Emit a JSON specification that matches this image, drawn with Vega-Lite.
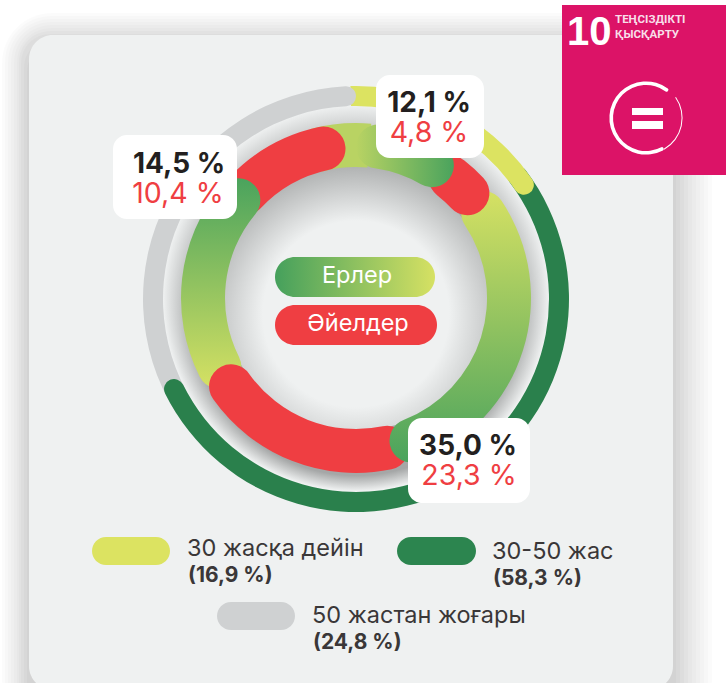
{"$schema":"https://vega.github.io/schema/vega-lite/v6.json","width":726,"height":683,"autosize":{"type":"none"},"padding":0,"background":"#ffffff","config":{"axis":{"disable":true},"view":{"stroke":null}},
"datasets":{"decor":[{"item":"decor"}],
"groups":[{"key":"u30","age":"30 жасқа дейін","share":"(16,9 %)","men":"12,1 %","women":"4,8 %"},{"key":"m30","age":"30-50 жас","share":"(58,3 %)","men":"35,0 %","women":"23,3 %"},{"key":"o50","age":"50 жастан жоғары","share":"(24,8 %)","men":"14,5 %","women":"10,4 %"}],
"sex":[{"key":"m","name":"Ерлер"},{"key":"f","name":"Әйелдер"}],
"sdg":[{"key":"n","t":"10"},{"key":"a","t":"ТЕҢСІЗДІКТІ"},{"key":"b","t":"ҚЫСҚАРТУ"}],
"rings":[{"id":"ys","start":-1.5,"end":10},{"id":"gray","start":235,"end":360},{"id":"green","start":50,"end":246.5},{"id":"yr","start":3,"end":58.6},
{"id":"m1a","start":345,"end":365},{"id":"w3","start":305,"end":356},{"id":"m3","start":235,"end":318},{"id":"w2","start":160,"end":243},{"id":"m2","start":48,"end":167},{"id":"w1","start":30,"end":55},{"id":"m1b","start":0,"end":38},{"id":"full","start":0,"end":360},{"id":"goal1","start":55,"end":150},{"id":"goal2","start":150,"end":399}]},
"layer":[
{"data":{"name":"decor"},"mark":{"type":"rect","fill":"#000000","opacity":0.014,"cornerRadius":50},"encoding":{"x":{"datum":2,"scale":{"domain":[0,726],"nice":false,"zero":false}},"x2":{"datum":712},"y":{"datum":13,"scale":{"domain":[683,0],"nice":false,"zero":false}},"y2":{"datum":730}}},
{"data":{"name":"decor"},"mark":{"type":"rect","fill":"#000000","opacity":0.014,"cornerRadius":46},"encoding":{"x":{"datum":5},"x2":{"datum":708},"y":{"datum":16},"y2":{"datum":730}}},
{"data":{"name":"decor"},"mark":{"type":"rect","fill":"#000000","opacity":0.014,"cornerRadius":43},"encoding":{"x":{"datum":8},"x2":{"datum":704},"y":{"datum":19},"y2":{"datum":730}}},
{"data":{"name":"decor"},"mark":{"type":"rect","fill":"#000000","opacity":0.014,"cornerRadius":40},"encoding":{"x":{"datum":11},"x2":{"datum":700},"y":{"datum":22},"y2":{"datum":730}}},
{"data":{"name":"decor"},"mark":{"type":"rect","fill":"#000000","opacity":0.014,"cornerRadius":37},"encoding":{"x":{"datum":14},"x2":{"datum":696},"y":{"datum":25},"y2":{"datum":730}}},
{"data":{"name":"decor"},"mark":{"type":"rect","fill":"#000000","opacity":0.016,"cornerRadius":34},"encoding":{"x":{"datum":17},"x2":{"datum":692},"y":{"datum":28},"y2":{"datum":730}}},
{"data":{"name":"decor"},"mark":{"type":"rect","fill":"#000000","opacity":0.018,"cornerRadius":31},"encoding":{"x":{"datum":19},"x2":{"datum":688},"y":{"datum":31},"y2":{"datum":730}}},
{"data":{"name":"decor"},"mark":{"type":"rect","fill":"#000000","opacity":0.02,"cornerRadius":29},"encoding":{"x":{"datum":21},"x2":{"datum":684},"y":{"datum":34},"y2":{"datum":730}}},
{"data":{"name":"decor"},"mark":{"type":"rect","fill":"#000000","opacity":0.02,"cornerRadius":27},"encoding":{"x":{"datum":24},"x2":{"datum":680},"y":{"datum":40},"y2":{"datum":730}}},
{"data":{"name":"decor"},"mark":{"type":"rect","fill":"#000000","opacity":0.02,"cornerRadius":26},"encoding":{"x":{"datum":27},"x2":{"datum":676},"y":{"datum":45},"y2":{"datum":730}}},
{"data":{"name":"decor"},"mark":{"type":"rect","fill":"#eff1f1","cornerRadius":24},"encoding":{"x":{"datum":29},"x2":{"datum":673},"y":{"datum":35},"y2":{"datum":690}}},

{"data":{"name":"rings"},"transform":[{"filter":"datum.id=='full'"}],"mark":{"type":"arc","innerRadius":0,"outerRadius":193,"fill":{"gradient":"radial","x1":0.5,"y1":0.54,"r1":0.42,"x2":0.5,"y2":0.5,"r2":0.5,"stops":[{"offset":0,"color":"#a5a7a7"},{"offset":1,"color":"#eff1f1"}]}},"encoding":{"x":{"datum":356},"y":{"datum":298},"theta":{"field":"start","type":"quantitative","stack":null,"scale":{"domain":[0,360],"range":[0,6.283185]}},"theta2":{"field":"end"}}},
{"data":{"name":"rings"},"transform":[{"filter":"datum.id=='full'"}],"mark":{"type":"arc","innerRadius":0,"outerRadius":133,"fill":{"gradient":"radial","x1":0.5,"y1":0.56,"r1":0.35,"x2":0.5,"y2":0.6,"r2":0.62,"stops":[{"offset":0,"color":"#eff1f1"},{"offset":1,"color":"#a9abab"}]}},"encoding":{"x":{"datum":356},"y":{"datum":298},"theta":{"field":"start","type":"quantitative","stack":null},"theta2":{"field":"end"}}},

{"data":{"name":"rings"},"transform":[{"filter":"datum.id=='ys'"}],"mark":{"type":"arc","innerRadius":193,"outerRadius":213,"fill":"#dce361"},"encoding":{"x":{"datum":356},"y":{"datum":299},"theta":{"field":"start","type":"quantitative","stack":null},"theta2":{"field":"end"}}},
{"data":{"name":"rings"},"transform":[{"filter":"datum.id=='gray'"}],"mark":{"type":"arc","innerRadius":193,"outerRadius":213,"cornerRadius":10,"fill":"#cfd1d2"},"encoding":{"x":{"datum":356},"y":{"datum":299},"theta":{"field":"start","type":"quantitative","stack":null},"theta2":{"field":"end"}}},
{"data":{"name":"rings"},"transform":[{"filter":"datum.id=='green'"}],"mark":{"type":"arc","innerRadius":193,"outerRadius":213,"cornerRadius":10,"fill":"#2a804c"},"encoding":{"x":{"datum":356},"y":{"datum":299},"theta":{"field":"start","type":"quantitative","stack":null},"theta2":{"field":"end"}}},
{"data":{"name":"rings"},"transform":[{"filter":"datum.id=='yr'"}],"mark":{"type":"arc","innerRadius":193,"outerRadius":213,"cornerRadius":10,"fill":"#dce361"},"encoding":{"x":{"datum":356},"y":{"datum":299},"theta":{"field":"start","type":"quantitative","stack":null},"theta2":{"field":"end"}}},

{"data":{"name":"rings"},"transform":[{"filter":"datum.id=='m1a'"}],"mark":{"type":"arc","innerRadius":131,"outerRadius":175,"fill":"#b9d363"},"encoding":{"x":{"datum":356},"y":{"datum":298},"theta":{"field":"start","type":"quantitative","stack":null},"theta2":{"field":"end"}}},
{"data":{"name":"rings"},"transform":[{"filter":"datum.id=='w3'"}],"mark":{"type":"arc","innerRadius":131,"outerRadius":175,"cornerRadius":22,"fill":"#ef3e42"},"encoding":{"x":{"datum":356},"y":{"datum":298},"theta":{"field":"start","type":"quantitative","stack":null},"theta2":{"field":"end"}}},
{"data":{"name":"rings"},"transform":[{"filter":"datum.id=='m3'"}],"mark":{"type":"arc","innerRadius":131,"outerRadius":175,"cornerRadius":22,"fill":{"gradient":"linear","x1":0.5,"y1":1,"x2":0.5,"y2":0,"stops":[{"offset":0,"color":"#d6e163"},{"offset":1,"color":"#4aa35d"}]}},"encoding":{"x":{"datum":356},"y":{"datum":298},"theta":{"field":"start","type":"quantitative","stack":null},"theta2":{"field":"end"}}},
{"data":{"name":"rings"},"transform":[{"filter":"datum.id=='w2'"}],"mark":{"type":"arc","innerRadius":131,"outerRadius":175,"cornerRadius":22,"fill":"#ef3e42"},"encoding":{"x":{"datum":356},"y":{"datum":298},"theta":{"field":"start","type":"quantitative","stack":null},"theta2":{"field":"end"}}},
{"data":{"name":"rings"},"transform":[{"filter":"datum.id=='m2'"}],"mark":{"type":"arc","innerRadius":131,"outerRadius":175,"cornerRadius":22,"fill":{"gradient":"linear","x1":0.5,"y1":0,"x2":0.5,"y2":1,"stops":[{"offset":0,"color":"#d6e163"},{"offset":1,"color":"#4aa35d"}]}},"encoding":{"x":{"datum":356},"y":{"datum":298},"theta":{"field":"start","type":"quantitative","stack":null},"theta2":{"field":"end"}}},
{"data":{"name":"rings"},"transform":[{"filter":"datum.id=='w1'"}],"mark":{"type":"arc","innerRadius":131,"outerRadius":175,"cornerRadius":22,"fill":"#ef3e42"},"encoding":{"x":{"datum":356},"y":{"datum":298},"theta":{"field":"start","type":"quantitative","stack":null},"theta2":{"field":"end"}}},
{"data":{"name":"rings"},"transform":[{"filter":"datum.id=='m1b'"}],"mark":{"type":"arc","innerRadius":131,"outerRadius":175,"cornerRadius":22,"fill":{"gradient":"linear","x1":0,"y1":0.5,"x2":1,"y2":0.5,"stops":[{"offset":0,"color":"#b9d363"},{"offset":1,"color":"#4aa35d"}]}},"encoding":{"x":{"datum":356},"y":{"datum":298},"theta":{"field":"start","type":"quantitative","stack":null},"theta2":{"field":"end"}}},

{"data":{"name":"groups"},"transform":[{"filter":"datum.key=='u30'"}],"mark":{"type":"rect","fill":"#ffffff","cornerRadius":14},"encoding":{"x":{"datum":376},"x2":{"datum":484},"y":{"datum":75},"y2":{"datum":158}}},
{"data":{"name":"groups"},"transform":[{"filter":"datum.key=='o50'"}],"mark":{"type":"rect","fill":"#ffffff","cornerRadius":14},"encoding":{"x":{"datum":113},"x2":{"datum":237},"y":{"datum":135},"y2":{"datum":219}}},
{"data":{"name":"groups"},"transform":[{"filter":"datum.key=='m30'"}],"mark":{"type":"rect","fill":"#ffffff","cornerRadius":14},"encoding":{"x":{"datum":408},"x2":{"datum":530},"y":{"datum":418},"y2":{"datum":503}}},

{"data":{"name":"groups"},"transform":[{"filter":"datum.key=='u30'"}],"mark":{"type":"text","font":"Inter","fontSize":28,"fontWeight":700,"fill":"#231f20","align":"center","baseline":"middle"},"encoding":{"x":{"datum":429},"y":{"datum":104},"text":{"field":"men"}}},
{"data":{"name":"groups"},"transform":[{"filter":"datum.key=='u30'"}],"mark":{"type":"text","font":"Inter","fontSize":28.5,"fontWeight":400,"fill":"#ef3e42","align":"center","baseline":"middle"},"encoding":{"x":{"datum":429},"y":{"datum":133},"text":{"field":"women"}}},
{"data":{"name":"groups"},"transform":[{"filter":"datum.key=='o50'"}],"mark":{"type":"text","font":"Inter","fontSize":28,"fontWeight":700,"fill":"#231f20","align":"center","baseline":"middle"},"encoding":{"x":{"datum":179},"y":{"datum":165},"text":{"field":"men"}}},
{"data":{"name":"groups"},"transform":[{"filter":"datum.key=='o50'"}],"mark":{"type":"text","font":"Inter","fontSize":28.5,"fontWeight":400,"fill":"#ef3e42","align":"center","baseline":"middle"},"encoding":{"x":{"datum":178},"y":{"datum":194},"text":{"field":"women"}}},
{"data":{"name":"groups"},"transform":[{"filter":"datum.key=='m30'"}],"mark":{"type":"text","font":"Inter","fontSize":28,"fontWeight":700,"fill":"#231f20","align":"center","baseline":"middle"},"encoding":{"x":{"datum":468},"y":{"datum":447},"text":{"field":"men"}}},
{"data":{"name":"groups"},"transform":[{"filter":"datum.key=='m30'"}],"mark":{"type":"text","font":"Inter","fontSize":28.5,"fontWeight":400,"fill":"#ef3e42","align":"center","baseline":"middle"},"encoding":{"x":{"datum":469},"y":{"datum":476},"text":{"field":"women"}}},

{"data":{"name":"sex"},"transform":[{"filter":"datum.key=='m'"}],"mark":{"type":"rect","cornerRadius":20,"fill":{"gradient":"linear","x1":0,"y1":0.5,"x2":1,"y2":0.5,"stops":[{"offset":0,"color":"#45a05c"},{"offset":1,"color":"#d6e163"}]}},"encoding":{"x":{"datum":275},"x2":{"datum":435},"y":{"datum":257},"y2":{"datum":297}}},
{"data":{"name":"sex"},"transform":[{"filter":"datum.key=='f'"}],"mark":{"type":"rect","cornerRadius":20,"fill":"#ef3e42"},"encoding":{"x":{"datum":275},"x2":{"datum":437},"y":{"datum":305},"y2":{"datum":345}}},
{"data":{"name":"sex"},"transform":[{"filter":"datum.key=='m'"}],"mark":{"type":"text","font":"Inter","fontSize":23.5,"fill":"#ffffff","align":"center","baseline":"middle"},"encoding":{"x":{"datum":357},"y":{"datum":276},"text":{"field":"name"}}},
{"data":{"name":"sex"},"transform":[{"filter":"datum.key=='f'"}],"mark":{"type":"text","font":"Inter","fontSize":23.5,"fill":"#ffffff","align":"center","baseline":"middle"},"encoding":{"x":{"datum":358},"y":{"datum":324},"text":{"field":"name"}}},

{"data":{"name":"groups"},"transform":[{"filter":"datum.key=='u30'"}],"mark":{"type":"rect","cornerRadius":14,"fill":"#dce361"},"encoding":{"x":{"datum":92},"x2":{"datum":170},"y":{"datum":537},"y2":{"datum":565}}},
{"data":{"name":"groups"},"transform":[{"filter":"datum.key=='m30'"}],"mark":{"type":"rect","cornerRadius":14,"fill":"#2c854f"},"encoding":{"x":{"datum":397},"x2":{"datum":476},"y":{"datum":537},"y2":{"datum":565}}},
{"data":{"name":"groups"},"transform":[{"filter":"datum.key=='o50'"}],"mark":{"type":"rect","cornerRadius":14,"fill":"#cfd1d2"},"encoding":{"x":{"datum":217},"x2":{"datum":295},"y":{"datum":602},"y2":{"datum":630}}},

{"data":{"name":"groups"},"transform":[{"filter":"datum.key=='u30'"}],"mark":{"type":"text","font":"Inter","fontSize":23.5,"fill":"#3a3738","align":"left","baseline":"middle"},"encoding":{"x":{"datum":187},"y":{"datum":549},"text":{"field":"age"}}},
{"data":{"name":"groups"},"transform":[{"filter":"datum.key=='u30'"}],"mark":{"type":"text","font":"Inter","fontSize":21,"fontWeight":700,"fill":"#3a3738","align":"left","baseline":"middle"},"encoding":{"x":{"datum":188},"y":{"datum":576},"text":{"field":"share"}}},
{"data":{"name":"groups"},"transform":[{"filter":"datum.key=='m30'"}],"mark":{"type":"text","font":"Inter","fontSize":23.5,"fill":"#3a3738","align":"left","baseline":"middle"},"encoding":{"x":{"datum":492},"y":{"datum":552},"text":{"field":"age"}}},
{"data":{"name":"groups"},"transform":[{"filter":"datum.key=='m30'"}],"mark":{"type":"text","font":"Inter","fontSize":21,"fontWeight":700,"fill":"#3a3738","align":"left","baseline":"middle"},"encoding":{"x":{"datum":493},"y":{"datum":579},"text":{"field":"share"}}},
{"data":{"name":"groups"},"transform":[{"filter":"datum.key=='o50'"}],"mark":{"type":"text","font":"Inter","fontSize":23.5,"fill":"#3a3738","align":"left","baseline":"middle"},"encoding":{"x":{"datum":312},"y":{"datum":616},"text":{"field":"age"}}},
{"data":{"name":"groups"},"transform":[{"filter":"datum.key=='o50'"}],"mark":{"type":"text","font":"Inter","fontSize":21,"fontWeight":700,"fill":"#3a3738","align":"left","baseline":"middle"},"encoding":{"x":{"datum":313},"y":{"datum":643},"text":{"field":"share"}}},

{"data":{"name":"decor"},"mark":{"type":"rect","fill":"#dc1367"},"encoding":{"x":{"datum":562},"x2":{"datum":726},"y":{"datum":5},"y2":{"datum":175}}},
{"data":{"name":"sdg"},"transform":[{"filter":"datum.key=='n'"}],"mark":{"type":"text","font":"Liberation Sans","fontSize":40,"fontWeight":700,"fill":"#ffffff","align":"left","baseline":"middle"},"encoding":{"x":{"datum":567},"y":{"datum":33},"text":{"field":"t"}}},
{"data":{"name":"sdg"},"transform":[{"filter":"datum.key=='a'"}],"mark":{"type":"text","font":"Roboto","fontSize":11.5,"fontWeight":700,"fill":"#f8dfe9","align":"left","baseline":"middle"},"encoding":{"x":{"datum":615},"y":{"datum":20},"text":{"field":"t"}}},
{"data":{"name":"sdg"},"transform":[{"filter":"datum.key=='b'"}],"mark":{"type":"text","font":"Roboto","fontSize":11.5,"fontWeight":700,"fill":"#f8dfe9","align":"left","baseline":"middle"},"encoding":{"x":{"datum":615},"y":{"datum":35},"text":{"field":"t"}}},
{"data":{"name":"rings"},"transform":[{"filter":"datum.id=='goal1'"}],"mark":{"type":"arc","innerRadius":35.6,"outerRadius":36.6,"fill":"#ffffff"},"encoding":{"x":{"datum":646},"y":{"datum":118},"theta":{"field":"start","type":"quantitative","stack":null},"theta2":{"field":"end"}}},
{"data":{"name":"rings"},"transform":[{"filter":"datum.id=='goal2'"}],"mark":{"type":"arc","innerRadius":33,"outerRadius":36.6,"cornerRadius":1.5,"fill":"#ffffff"},"encoding":{"x":{"datum":646},"y":{"datum":118},"theta":{"field":"start","type":"quantitative","stack":null},"theta2":{"field":"end"}}},
{"data":{"name":"decor"},"mark":{"type":"rect","fill":"#ffffff"},"encoding":{"x":{"datum":632},"x2":{"datum":663},"y":{"datum":108},"y2":{"datum":115}}},
{"data":{"name":"decor"},"mark":{"type":"rect","fill":"#ffffff"},"encoding":{"x":{"datum":632},"x2":{"datum":663},"y":{"datum":121},"y2":{"datum":129}}}
]}
